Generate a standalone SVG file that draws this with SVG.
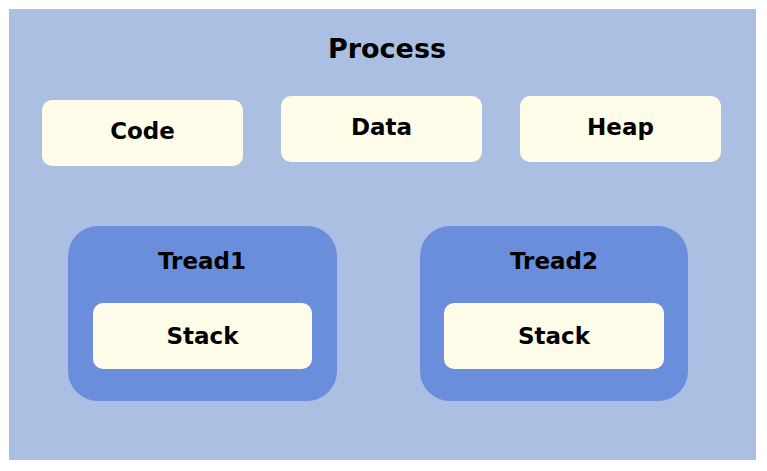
<svg xmlns="http://www.w3.org/2000/svg" width="767" height="471" viewBox="0 0 767 471">
  <style>
    .proc { fill: #AABFE2; }
    .thread { fill: #6A8EDB; }
    .seg { fill: #FFFDE9; }
    text { font-family: "DejaVu Sans", "Noto Sans CJK KR", sans-serif; font-weight: bold; fill: #000; text-anchor: middle; }
    .label { font-size: 23px; }
    .title { font-size: 27px; }
  </style>
  <rect width="767" height="471" fill="#FFFFFF"/>
  <g id="process">
    <rect class="proc" x="9" y="9" width="747" height="451"/>
    <text class="title" x="387" y="57.5">Process</text>
  </g>
  <g id="code">
    <rect class="seg" x="42" y="100" width="201" height="66" rx="10"/>
    <text class="label" x="142.5" y="139">Code</text>
  </g>
  <g id="data">
    <rect class="seg" x="281" y="96" width="201" height="66" rx="10"/>
    <text class="label" x="381.5" y="135">Data</text>
  </g>
  <g id="heap">
    <rect class="seg" x="520" y="96" width="201" height="66" rx="10"/>
    <text class="label" x="620.5" y="135">Heap</text>
  </g>
  <g id="thread1">
    <rect class="thread" x="68" y="226" width="269" height="175" rx="30"/>
    <text class="label" x="202" y="269">Tread1</text>
    <g id="stack1">
      <rect class="seg" x="93" y="303" width="219" height="66" rx="10"/>
      <text class="label" x="202.5" y="344">Stack</text>
    </g>
  </g>
  <g id="thread2">
    <rect class="thread" x="420" y="226" width="268" height="175" rx="30"/>
    <text class="label" x="554" y="269">Tread2</text>
    <g id="stack2">
      <rect class="seg" x="444" y="303" width="220" height="66" rx="10"/>
      <text class="label" x="554" y="344">Stack</text>
    </g>
  </g>
  <g id="connectors"/>
</svg>
